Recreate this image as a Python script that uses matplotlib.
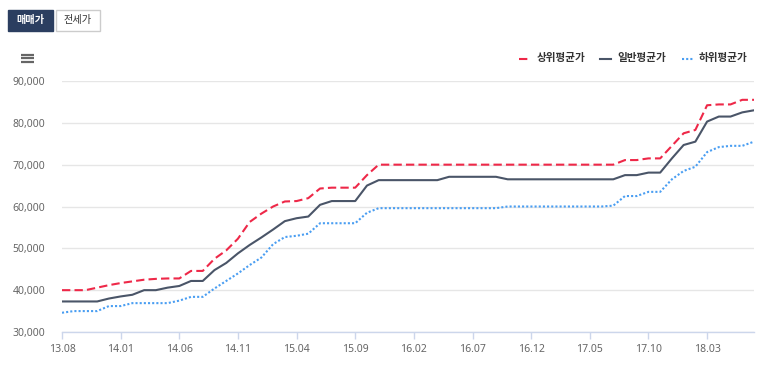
import matplotlib
matplotlib.use("Agg")
import matplotlib.pyplot as plt
from matplotlib.patches import Rectangle
from matplotlib.lines import Line2D
from matplotlib.ticker import FuncFormatter

months = ["13.08","13.09","13.10","13.11","13.12",
          "14.01","14.02","14.03","14.04","14.05","14.06","14.07","14.08","14.09","14.10","14.11","14.12",
          "15.01","15.02","15.03","15.04","15.05","15.06","15.07","15.08","15.09","15.10","15.11","15.12",
          "16.01","16.02","16.03","16.04","16.05","16.06","16.07","16.08","16.09","16.10","16.11","16.12",
          "17.01","17.02","17.03","17.04","17.05","17.06","17.07","17.08","17.09","17.10","17.11","17.12",
          "18.01","18.02","18.03","18.04","18.05","18.06","18.07"]

upper_avg = [40000, 40000, 40000, 40600, 41200, 41700, 42100, 42500, 42700, 42800,
             42800, 44600, 44600, 47500, 49500, 52300, 56300, 58300, 60000, 61200,
             61300, 62000, 64300, 64500, 64500, 64500, 67500, 70000, 70000, 70000,
             70000, 70000, 70000, 70000, 70000, 70000, 70000, 70000, 70000, 70000,
             70000, 70000, 70000, 70000, 70000, 70000, 70000, 70000, 71100, 71100,
             71500, 71500, 74500, 77500, 78300, 84200, 84400, 84400, 85500, 85500]

normal_avg = [37300, 37300, 37300, 37300, 38000, 38500, 38900, 40000, 40000, 40600,
              41000, 42200, 42200, 44800, 46500, 48800, 50800, 52600, 54500, 56500,
              57200, 57600, 60400, 61300, 61300, 61300, 65000, 66300, 66300, 66300,
              66300, 66300, 66300, 67100, 67100, 67100, 67100, 67100, 66500, 66500,
              66500, 66500, 66500, 66500, 66500, 66500, 66500, 66500, 67500, 67500,
              68100, 68100, 71500, 74700, 75500, 80300, 81500, 81500, 82500, 83000]

lower_avg = [34600, 35000, 35000, 35000, 36200, 36200, 36900, 36900, 36900, 36900,
             37500, 38400, 38400, 40400, 42200, 44000, 46000, 47800, 51000, 52700,
             53000, 53500, 56000, 56000, 56000, 56000, 58500, 59600, 59600, 59600,
             59600, 59600, 59600, 59600, 59600, 59600, 59600, 59600, 60000, 60000,
             60000, 60000, 60000, 60000, 60000, 60000, 60000, 60200, 62500, 62500,
             63500, 63500, 66500, 68500, 69500, 73000, 74200, 74500, 74500, 75500]

series_names = ["상위평균가", "일반평균가", "하위평균가"]
y_ticks = [30000, 40000, 50000, 60000, 70000, 80000, 90000]
tab_labels = ["매매가", "전세가"]

RED = "#ee2848"
DARK = "#4a5568"
BLUE = "#4a9ef2"
KFONT = ["Noto Sans CJK KR", "DejaVu Sans"]

W, H = 768, 365
fig = plt.figure(figsize=(W / 100, H / 100), dpi=100)

def fx(px):
    return px / W

def fy(py):
    return (H - py) / H

ax = fig.add_axes([fx(62), fy(332), fx(754) - fx(62), fy(81) - fy(332)])
x = list(range(len(months)))

ax.plot(x, upper_avg, color=RED, lw=1.5, linestyle=(0, (4, 2)), solid_joinstyle="round", zorder=3)
ax.plot(x, normal_avg, color=DARK, lw=1.5, solid_joinstyle="round", zorder=3)
ax.plot(x, lower_avg, color=BLUE, lw=1.5, linestyle=(0, (1, 1)), zorder=3)

ax.set_xlim(0, len(months) - 1)
ax.set_ylim(y_ticks[0], y_ticks[-1])
ax.set_yticks(y_ticks)
ax.yaxis.set_major_formatter(FuncFormatter(lambda v, p: f"{int(v):,}"))
ax.set_xticks(x[::5])
ax.set_xticklabels(months[::5])
ax.grid(axis="y", color="#e6e6e6", lw=1)
ax.set_axisbelow(True)
for s in ["top", "right", "left"]:
    ax.spines[s].set_visible(False)
ax.spines["bottom"].set_color("#ccd6eb")
ax.spines["bottom"].set_linewidth(1)
ax.spines["bottom"].set_zorder(4)
ax.tick_params(axis="y", length=0, pad=12, labelsize=7.5, labelcolor="#666666")
ax.tick_params(axis="x", length=5, width=1, color="#ccd6eb", pad=4, labelsize=7.5, labelcolor="#666666")
for lab in ax.get_xticklabels() + ax.get_yticklabels():
    lab.set_family("Noto Sans")

# tab buttons
fig.add_artist(Rectangle((fx(8), fy(31)), fx(53) - fx(8), fy(10) - fy(31),
                         transform=fig.transFigure, facecolor="#2b3e60", edgecolor="#2b3e60", lw=1))
fig.text(fx(30.5), fy(20.5), tab_labels[0], color="white", fontsize=7.3, fontweight="bold",
         ha="center", va="center", family=KFONT)
fig.add_artist(Rectangle((fx(56), fy(31)), fx(100) - fx(56), fy(10) - fy(31),
                         transform=fig.transFigure, facecolor="white", edgecolor="#cccccc", lw=1))
fig.text(fx(78), fy(20.5), tab_labels[1], color="#333333", fontsize=7.3,
         ha="center", va="center", family=KFONT)

# hamburger icon
for yy in [54.5, 58, 61.5]:
    fig.add_artist(Line2D([fx(20.5), fx(34)], [fy(yy), fy(yy)], transform=fig.transFigure,
                          color="#666666", lw=1.6, solid_capstyle="butt"))

# legend
legend_items = [
    (RED, (0, (4, 2)), 519, 530, 537),
    (DARK, "-", 600, 611, 617),
    (BLUE, (0, (1, 1)), 682, 693, 699),
]
ly = 58.5
for (col, ls, x0, x1, tx), name in zip(legend_items, series_names):
    fig.add_artist(Line2D([fx(x0), fx(x1)], [fy(ly), fy(ly)], transform=fig.transFigure,
                          color=col, lw=1.5, linestyle=ls))
    fig.text(fx(tx), fy(ly), name, color="#333333", fontsize=7.6, fontweight="bold",
             ha="left", va="center", family=KFONT)

fig.savefig("out.png", dpi=100)
